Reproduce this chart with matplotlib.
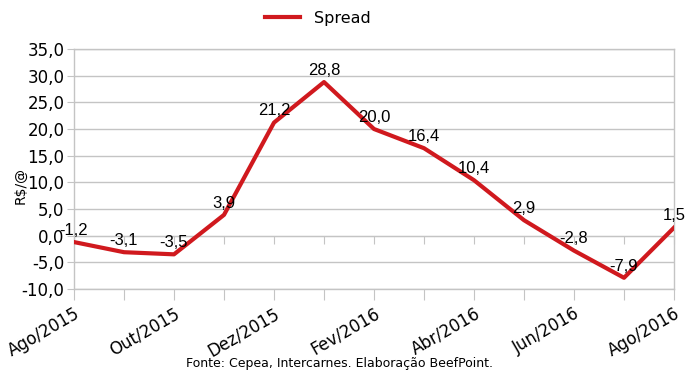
import matplotlib
matplotlib.use("Agg")
from matplotlib import pyplot as plt
from matplotlib.ticker import FuncFormatter

# Meses e valores do spread (R$/@)
meses = ['Ago/2015', 'Set/2015', 'Out/2015', 'Nov/2015', 'Dez/2015', 'Jan/2016', 'Fev/2016',
         'Mar/2016', 'Abr/2016', 'Mai/2016', 'Jun/2016', 'Jul/2016', 'Ago/2016']
spread = [-1.2, -3.1, -3.5, 3.9, 21.2, 28.8, 20.0, 16.4, 10.4, 2.9, -2.8, -7.9, 1.5]
y_ticks = [-10, -5, 0, 5, 10, 15, 20, 25, 30, 35]

cor = '#d0191e'
cinza = '#c4c4c4'


def virgula(v, dec=1):
    return f'{v:.{dec}f}'.replace('.', ',')


fig = plt.figure(figsize=(6.96, 3.72), dpi=100)
ax = fig.add_axes([74 / 696, 1 - 289 / 372, 600 / 696, 240 / 372])

x = list(range(len(meses)))
ax.plot(x, spread, color=cor, linewidth=3, solid_joinstyle='round', label='Spread', zorder=3)

# Rótulos dos valores
for xi, v in zip(x, spread):
    ax.annotate(virgula(v), (xi, v), xytext=(0, 3), textcoords='offset points',
                ha='center', va='bottom', fontsize=12, family='Liberation Sans', zorder=4)

ax.set_xlim(0, len(meses) - 1)
ax.set_ylim(-10, 35)
ax.set_yticks(y_ticks)
ax.yaxis.set_major_formatter(FuncFormatter(lambda v, p: virgula(v)))
ax.set_xticks(x)
ax.set_xticklabels([m if i % 2 == 0 else '' for i, m in enumerate(meses)],
                   rotation=30, ha='right', rotation_mode='anchor', fontsize=12)
ax.tick_params(axis='y', labelsize=12, length=5, color=cinza, pad=2)
ax.tick_params(axis='x', length=8, color=cinza, pad=3)
ax.grid(axis='y', color=cinza, linewidth=1)
ax.set_axisbelow(True)
for s in ax.spines.values():
    s.set_color(cinza)
    s.set_linewidth(1)

# Eixo em y = 0 com marcas
eixo0 = ax.secondary_xaxis(0, transform=ax.transData)
eixo0.set_xticks(x)
eixo0.set_xticklabels([])
eixo0.tick_params(length=6, color=cinza)
eixo0.spines['bottom'].set_color(cinza)

ax.set_ylabel('R$/@', fontsize=10)
ax.yaxis.set_label_coords(-0.077, 0.43)

fig.legend(loc='center', bbox_to_anchor=(318 / 696, 1 - 18 / 372), frameon=False,
           fontsize=11.5, handlelength=2.2, handletextpad=0.9)

fig.text(340 / 696, 1 - 364 / 372, 'Fonte: Cepea, Intercarnes. Elaboração BeefPoint.',
         ha='center', va='center', fontsize=9)

fig.savefig('out.png', dpi=100)
